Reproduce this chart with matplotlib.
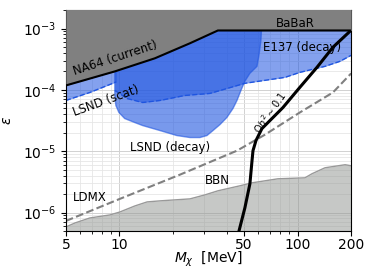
import numpy as np
import matplotlib
matplotlib.use("Agg")
import matplotlib.pyplot as plt
from matplotlib.ticker import FixedLocator, FixedFormatter, NullFormatter

# limites del grafico
xmin, xmax = 5, 200
ymin, ymax = 5e-7, 2e-3

# NA64 (current) + BaBaR, borde superior
na64_x = [5, 9.42, 15.8, 24.9, 35.7, 200]
na64_y = [1.18e-4, 2.0e-4, 3.27e-4, 5.76e-4, 9.3e-4, 9.3e-4]

# LSND (scat), borde inferior
lsnd_scat_x = [5, 6.82, 9.18, 9.6]
lsnd_scat_y = [6.72e-5, 9.08e-5, 1.28e-4, 1.35e-4]

# E137 (decay), borde inferior
e137_x = [9.42, 11.0, 13.5, 16.9, 23.3, 32.2, 50.6, 85.0, 103, 142.6, 173, 200]
e137_y = [9.8e-5, 7.24e-5, 6.23e-5, 6.72e-5, 8.11e-5, 8.75e-5, 1.28e-4, 1.60e-4,
          1.93e-4, 2.42e-4, 2.92e-4, 3.67e-4]

# LSND (decay), contorno cerrado
lsnd_dec_x = [9.42, 9.42, 9.55, 9.93, 10.7, 12.2, 13.5, 16.9, 21.0, 24.9, 28.3, 31.0,
              33.5, 36.7, 40.1, 43.4, 45.7, 48.1, 50.6, 54.0, 59.2, 60.7, 62.3, 63.1]
lsnd_dec_y = [1.37e-3, 8.11e-5, 5.56e-5, 4.28e-5, 3.41e-5, 2.93e-5, 2.62e-5, 2.17e-5,
              1.80e-5, 1.67e-5, 1.67e-5, 1.80e-5, 2.17e-5, 2.72e-5, 3.54e-5, 4.97e-5,
              6.72e-5, 9.8e-5, 1.38e-4, 1.86e-4, 2.42e-4, 3.67e-4, 6.45e-4, 1.37e-3]

# relic abundance Omega h^2 ~ 0.1
relic_x = [46.9, 50.6, 54.0, 55.5, 56.2, 58.4, 63.1, 82.8, 103, 128.5, 158, 200]
relic_y = [5.0e-7, 1.19e-6, 2.94e-6, 7.0e-6, 1.02e-5, 1.49e-5, 2.34e-5, 5.16e-5,
           1.10e-4, 2.33e-4, 4.96e-4, 9.41e-4]

# LDMX proyeccion
ldmx_x = [5, 10.05, 21.8, 45.7, 65.6, 103, 158, 200]
ldmx_y = [7.28e-7, 1.67e-6, 4.13e-6, 1.02e-5, 1.86e-5, 4.28e-5, 9.08e-5, 1.86e-4]

# BBN
bbn_x = [5, 5.62, 6.82, 8.84, 10.05, 12.2, 14.3, 16.9, 24.9, 30.2, 35.7, 47.5, 55.5,
         77.6, 110, 120.5, 142.6, 185, 200]
bbn_y = [5.81e-7, 6.75e-7, 8.16e-7, 9.14e-7, 1.02e-6, 1.28e-6, 1.49e-6, 1.55e-6,
         1.67e-6, 1.94e-6, 2.26e-6, 2.73e-6, 3.05e-6, 3.55e-6, 3.68e-6, 4.29e-6,
         5.37e-6, 6.02e-6, 5.79e-6]

xticks = [5, 10, 50, 100, 200]
xticklabels = ["5", "10", "50", "100", "200"]

azul = "#1f55e0"

fig = plt.figure(figsize=(3.74, 2.8), dpi=100)
ax = fig.add_subplot(111)
fig.subplots_adjust(left=0.176, right=0.939, top=0.964, bottom=0.175)

ax.set_xscale("log")
ax.set_yscale("log")

# regiones azules
ax.fill_between(lsnd_scat_x, lsnd_scat_y, ymax, color=azul, alpha=0.55, lw=0, zorder=1)
ax.plot(lsnd_scat_x, lsnd_scat_y, color=azul, lw=1, ls="--", zorder=1)
ax.fill_between(e137_x, e137_y, ymax, color=azul, alpha=0.55, lw=0, zorder=1)
ax.plot(e137_x, e137_y, color=azul, lw=1, ls="--", zorder=1)
ax.fill(lsnd_dec_x, lsnd_dec_y, facecolor=azul, alpha=0.6, edgecolor=azul, lw=1, zorder=1)

# BBN
ax.fill_between(bbn_x, 1e-8, bbn_y, color="#8f938f", alpha=0.5, lw=0, zorder=2)
ax.plot(bbn_x, bbn_y, color="#999999", lw=1, zorder=2)

# LDMX
ax.plot(ldmx_x, ldmx_y, color="gray", lw=1.5, ls="--", zorder=2)

# relic
ax.plot(relic_x, relic_y, color="black", lw=2.2, zorder=3)

# NA64 / BaBaR
ax.fill_between(na64_x, na64_y, 1, color="#808080", lw=0, zorder=4)
ax.plot(na64_x, na64_y, color="black", lw=1.5, zorder=4)

ax.set_xlim(xmin, xmax)
ax.set_ylim(ymin, ymax)

ax.xaxis.set_major_locator(FixedLocator(xticks))
ax.xaxis.set_major_formatter(FixedFormatter(xticklabels))
ax.xaxis.set_minor_formatter(NullFormatter())
ax.tick_params(labelsize=10)
ax.tick_params(axis="x", pad=1.5)

ax.grid(True, which="major", color="0.82", lw=0.7, zorder=0)
ax.grid(True, which="minor", color="0.9", lw=0.6, zorder=0)
ax.set_axisbelow(True)

ax.set_xlabel(r"$M_\chi$  [MeV]", fontsize=10, labelpad=-1.5)
ax.set_ylabel(r"$\epsilon$", fontsize=10, labelpad=6)

fs = 8.5
ax.text(9.42, 3.27e-4, "NA64 (current)", fontsize=fs, rotation=18, ha="center", va="center", zorder=5)
ax.text(96.7, 1.22e-3, "BaBaR", fontsize=fs, ha="center", va="center", zorder=5)
ax.text(106, 4.96e-4, "E137 (decay)", fontsize=fs, ha="center", va="center", zorder=5)
ax.text(8.39, 6.72e-5, "LSND (scat)", fontsize=fs, rotation=20, ha="center", va="center", zorder=5)
ax.text(19.2, 1.14e-5, "LSND (decay)", fontsize=fs, ha="center", va="center", zorder=5)
ax.text(6.82, 1.73e-6, "LDMX", fontsize=fs, ha="center", va="center", zorder=5)
ax.text(35.3, 3.29e-6, "BBN", fontsize=fs, ha="center", va="center", zorder=5)
ax.text(70, 4.28e-5, r"$\Omega h^2 \sim 0.1$", fontsize=7, rotation=55, ha="center", va="center", zorder=5)

plt.savefig("out.png", dpi=100)
